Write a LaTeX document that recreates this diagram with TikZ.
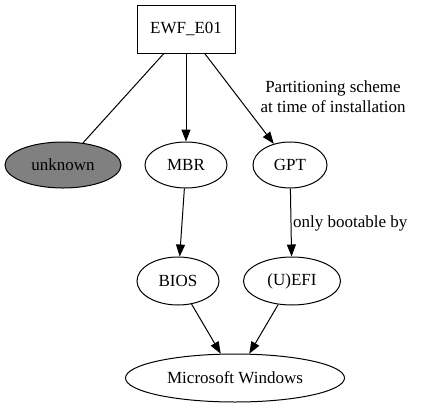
\documentclass[tikz,border=0pt]{standalone}
\usepackage{fontspec}
\setmainfont{Liberation Serif}
\usetikzlibrary{shapes.geometric,arrows.meta}
\begin{document}
\begin{tikzpicture}[x=1pt,y=-1pt,
  every node/.style={font=\fontsize{17}{20}\selectfont, inner sep=0pt},
  ell/.style={draw, ellipse, line width=1pt, minimum height=46pt},
  edge/.style={line width=1pt},
  arr/.style={edge, -{Triangle[length=12pt,width=9pt]}}]
\useasboundingbox (0,0) rectangle (421,408);
\node[draw, rectangle, line width=1pt, minimum width=98pt, minimum height=48pt] (ewf) at (186,29) {EWF\_E01};
\node[ell, fill=black!50, minimum width=116pt] (unk) at (63,165) {unknown};
\node[ell, minimum width=82pt] (mbr) at (186,165) {MBR};
\node[ell, minimum width=74pt] (gpt) at (290,165) {GPT};
\node[ell, minimum width=82pt, minimum height=48pt] (bios) at (178,281) {BIOS};
\node[ell, minimum width=97pt, minimum height=48pt] (efi) at (292,281) {(U)EFI};
\node[ell, minimum width=219pt, minimum height=48pt] (win) at (235,378) {Microsoft Windows};
\node[align=center] (lab1) at (333,97) {Partitioning scheme\\at time of installation};
\node[anchor=west] (lab2) at (293,223) {only bootable by};
\draw[edge] (ewf) -- (unk);
\draw[arr] (ewf) -- (mbr);
\draw[arr] (ewf) -- (gpt);
\draw[arr] (mbr) -- (bios);
\draw[arr] (gpt) -- (efi);
\draw[arr] (bios) -- (win);
\draw[arr] (efi) -- (win);
\end{tikzpicture}
\end{document}
